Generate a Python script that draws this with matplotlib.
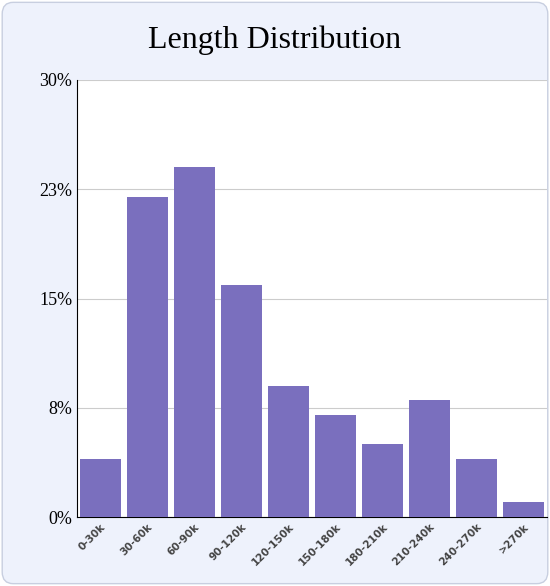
import matplotlib
matplotlib.use("Agg")
import matplotlib.pyplot as plt
from matplotlib.patches import FancyBboxPatch

categories = ["0-30k","30-60k","60-90k","90-120k","120-150k","150-180k","180-210k","210-240k","240-270k",">270k"]
values = [4.0, 22.0, 24.0, 15.9, 9.0, 7.0, 5.0, 8.0, 4.0, 1.0]
yticks = [0, 7.5, 15, 22.5, 30]
ylabels = ["0%", "8%", "15%", "23%", "30%"]

fig = plt.figure(figsize=(5.5, 5.86), dpi=100)
fig.patch.set_facecolor("white")
bg = FancyBboxPatch((0.004, 0.004), 0.992, 0.992, boxstyle="round,pad=0,rounding_size=0.02",
                    transform=fig.transFigure, facecolor="#eef2fc", edgecolor="#c8cfe0", lw=1,
                    zorder=-10)
fig.patches.append(bg)
ax = fig.add_axes([77/550, 1-517/586, (547-77)/550, (517-80)/586])
ax.set_zorder(5)
ax.set_facecolor("white")
x = range(len(categories))
ax.bar(x, values, width=0.88, color="#7a6fbe", zorder=3)
ax.set_xlim(-0.5, len(categories)-0.5)
ax.set_ylim(0, 30)
ax.set_yticks(yticks)
ax.set_yticklabels(ylabels, fontfamily="Liberation Serif", fontsize=13)
ax.yaxis.grid(True, color="#cccccc", lw=0.8, zorder=0)
ax.set_xticks(list(x))
ax.set_xticklabels(categories, rotation=45, ha="right", rotation_mode="anchor",
                   fontsize=7.5, fontweight="bold", color="#444444")
ax.tick_params(axis="both", length=0)
for s in ["top", "right"]:
    ax.spines[s].set_visible(False)
ax.spines["left"].set_color("black")
ax.spines["bottom"].set_color("black")
fig.text(0.5, 1-40/586, "Length Distribution", ha="center", va="center",
         fontfamily="Liberation Serif", fontsize=23, zorder=6)
fig.savefig("out.png", dpi=100)
